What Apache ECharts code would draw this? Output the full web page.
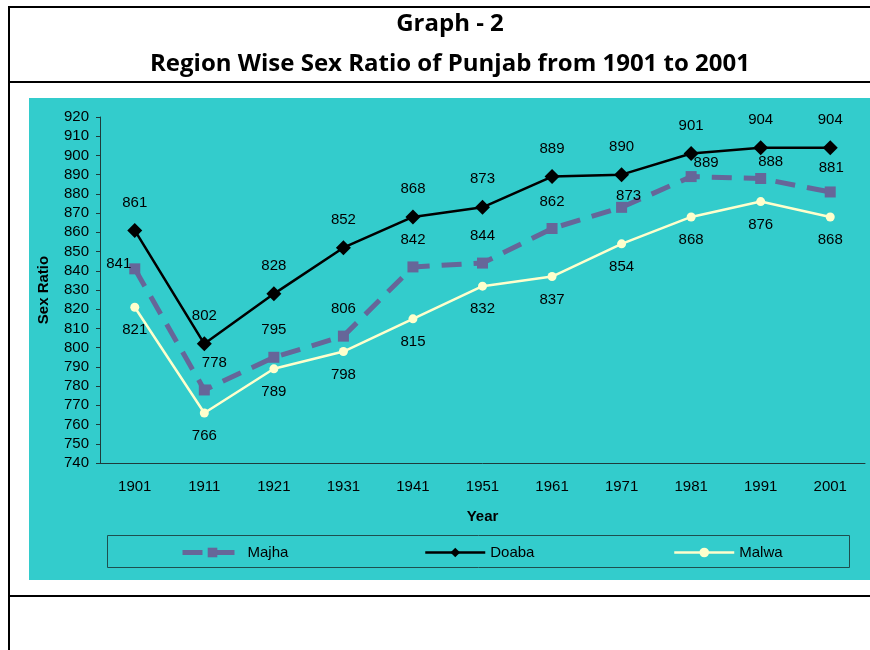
<!DOCTYPE html>
<html>
<head>
<meta charset="utf-8">
<title>Region Wise Sex Ratio of Punjab</title>
<script src="https://cdn.jsdelivr.net/npm/echarts@6/dist/echarts.min.js"></script>
<style>
    html, body { margin: 0; padding: 0; background: #fff; }
    #chart { width: 870px; height: 650px; }
</style>
</head>
<body>
<div id="chart"></div>
<script>
// 数据
var years = ['1901', '1911', '1921', '1931', '1941', '1951', '1961', '1971', '1981', '1991', '2001'];
var majha = [841, 778, 795, 806, 842, 844, 862, 873, 889, 888, 881];
var doaba = [861, 802, 828, 852, 868, 873, 889, 890, 901, 904, 904];
var malwa = [821, 766, 789, 798, 815, 832, 837, 854, 868, 876, 868];

var labelFont = 'Liberation Sans, Arial, sans-serif';

// Majha 标签的偏移 (避开 Doaba 的线)
var majhaLabelOffset = {
    0: [-16, 22],
    1: [10, 0],
    7: [7, 16],
    8: [15, 13],
    9: [10, 10],
    10: [1, 3]
};

function majhaData() {
    return majha.map(function (v, i) {
        if (majhaLabelOffset[i]) {
            return { value: v, label: { offset: majhaLabelOffset[i] } };
        }
        return v;
    });
}

function legendItem(name, left, lineWidth) {
    return {
        data: [name],
        left: left,
        top: 545,
        padding: 0,
        itemWidth: 60,
        itemHeight: 12,
        itemGap: 4,
        lineStyle: { width: lineWidth },
        textStyle: { fontSize: 15, color: '#000', fontFamily: labelFont }
    };
}

var myChart = echarts.init(document.getElementById('chart'));

var option = {
    backgroundColor: '#fff',
    animation: false,
    textStyle: { fontFamily: labelFont },
    title: [
        {
            text: 'Graph - 2',
            left: 445, top: 7, textAlign: 'center',
            textStyle: { fontFamily: 'Open Sans', fontWeight: 'bold', fontSize: 24, color: '#000' }
        },
        {
            text: 'Region Wise Sex Ratio of Punjab from 1901 to 2001',
            left: 445, top: 47, textAlign: 'center',
            textStyle: { fontFamily: 'Open Sans', fontWeight: 'bold', fontSize: 24, color: '#000' }
        }
    ],
    graphic: [
        // 底色
        { type: 'rect', z: -10, silent: true, shape: { x: 29, y: 98, width: 841, height: 482 }, style: { fill: '#33CCCC' } },
        // 表格线
        { type: 'line', silent: true, shape: { x1: 9, y1: 7, x2: 870, y2: 7 }, style: { stroke: '#000', lineWidth: 2 } },
        { type: 'line', silent: true, shape: { x1: 9, y1: 6, x2: 9, y2: 650 }, style: { stroke: '#000', lineWidth: 2 } },
        { type: 'line', silent: true, shape: { x1: 9, y1: 82, x2: 870, y2: 82 }, style: { stroke: '#000', lineWidth: 2 } },
        { type: 'line', silent: true, shape: { x1: 9, y1: 596, x2: 870, y2: 596 }, style: { stroke: '#000', lineWidth: 2 } },
        // 图例框
        { type: 'rect', silent: true, shape: { x: 107.5, y: 535.5, width: 742, height: 32 }, style: { fill: 'none', stroke: '#1d4f4f', lineWidth: 1 } }
    ],
    legend: [
        legendItem('Majha', 180, 5),
        legendItem('Doaba', 424, 2.5),
        legendItem('Malwa', 673, 2.5)
    ],
    grid: { left: 100, top: 117, width: 765, height: 346 },
    xAxis: {
        type: 'category',
        data: years,
        boundaryGap: true,
        name: 'Year',
        nameLocation: 'middle',
        nameGap: 46,
        nameTextStyle: { fontWeight: 'bold', fontSize: 15, color: '#000' },
        axisLine: { lineStyle: { color: '#1f3a3a', width: 1 } },
        axisTick: { inside: true, length: 4, lineStyle: { color: '#1f3a3a' } },
        axisLabel: { fontSize: 15, color: '#000', margin: 16 },
        splitLine: { show: false }
    },
    yAxis: {
        type: 'value',
        min: 740,
        max: 920,
        interval: 10,
        name: 'Sex Ratio',
        nameLocation: 'middle',
        nameRotate: 90,
        nameGap: 49,
        nameTextStyle: { fontWeight: 'bold', fontSize: 15, color: '#000' },
        axisLine: { show: true, lineStyle: { color: '#1f3a3a', width: 1 } },
        axisTick: { show: true, length: 4, lineStyle: { color: '#1f3a3a' } },
        axisLabel: { fontSize: 15, color: '#000', margin: 11 },
        splitLine: { show: false }
    },
    series: [
        {
            name: 'Majha',
            type: 'line',
            data: majhaData(),
            symbol: 'rect',
            symbolSize: 11,
            color: '#666699',
            lineStyle: { color: '#666699', width: 5, type: [20, 12] },
            itemStyle: { color: '#666699' },
            label: { show: true, position: 'top', distance: 14, fontSize: 15, color: '#000' },
            z: 3
        },
        {
            name: 'Doaba',
            type: 'line',
            data: doaba,
            symbol: 'diamond',
            symbolSize: 15,
            color: '#000',
            lineStyle: { color: '#000', width: 2.5 },
            itemStyle: { color: '#000' },
            label: { show: true, position: 'top', distance: 13, fontSize: 15, color: '#000' },
            z: 4
        },
        {
            name: 'Malwa',
            type: 'line',
            data: malwa,
            symbol: 'circle',
            symbolSize: 9,
            color: '#FFFFCC',
            lineStyle: { color: '#FFFFCC', width: 2.5 },
            itemStyle: { color: '#FFFFCC' },
            label: { show: true, position: 'bottom', distance: 11, fontSize: 15, color: '#000' },
            z: 2
        }
    ]
};

myChart.setOption(option);
</script>
</body>
</html>
